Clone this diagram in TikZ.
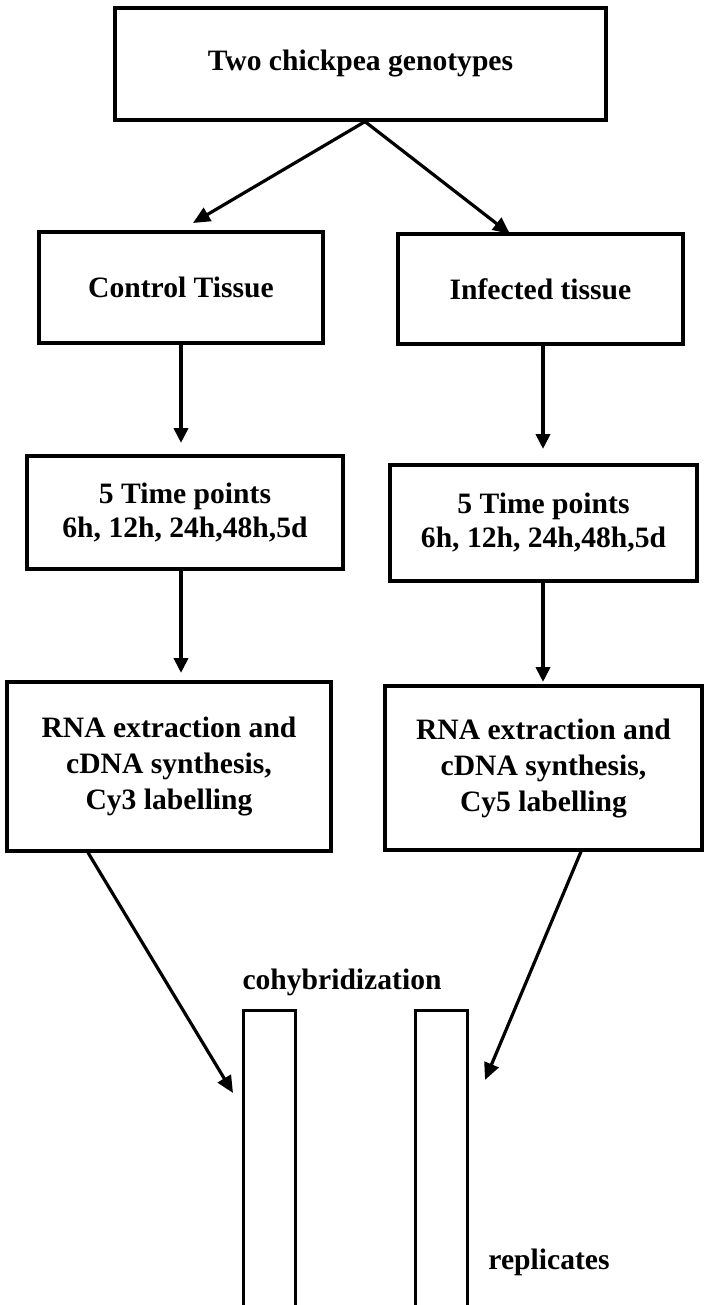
\documentclass[tikz,border=0pt]{standalone}
\usepackage{fontspec}
\setmainfont{Liberation Serif}
\usetikzlibrary{arrows.meta}
\begin{document}
\begin{tikzpicture}[x=1pt,y=-1pt,
  box/.style={draw=black,line width=3.2pt,rectangle,inner sep=0pt,align=center,
    font=\fontsize{29.6}{34}\selectfont\bfseries},
  bar/.style={draw=black,line width=3pt,rectangle,inner sep=0pt},
  lbl/.style={inner sep=0pt,font=\fontsize{29.6}{34}\selectfont\bfseries},
  arr/.style={line width=4pt,-{Triangle[length=15pt,width=14pt]}},
  darr/.style={line width=3.2pt,-{Triangle[length=17pt,width=15pt]}}]
\useasboundingbox (0,0) rectangle (704,1305);
% boxes
\node[box,minimum width=491pt,minimum height=112pt] (top) at (360.5,64) {Two chickpea genotypes};
\node[box,minimum width=284pt,minimum height=111pt] (ctrl) at (181,287.5) {Control Tissue};
\node[box,minimum width=285pt,minimum height=110pt] (inf) at (540.5,289) {Infected tissue};
\node[box,minimum width=316pt,minimum height=113pt] (t1) at (185,512.5) {5 Time points\\6h, 12h, 24h,48h,5d};
\node[box,minimum width=307pt,minimum height=116pt] (t2) at (543.5,523) {5 Time points\\6h, 12h, 24h,48h,5d};
\node[box,minimum width=324pt,minimum height=169pt,font=\fontsize{29.6}{36}\selectfont\bfseries] (r1) at (169,766.5) {RNA extraction and\\cDNA synthesis,\\Cy3 labelling};
\node[box,minimum width=317pt,minimum height=164pt,font=\fontsize{29.6}{36}\selectfont\bfseries] (r2) at (543.5,768) {RNA extraction and\\cDNA synthesis,\\Cy5 labelling};
% bars
\node[bar,minimum width=52pt,minimum height=320pt] (b1) at (269,1170) {};
\node[bar,minimum width=52pt,minimum height=320pt] (b2) at (441,1170) {};
% labels
\node[lbl] (coh) at (342,982) {cohybridization};
\node[lbl] (rep) at (549,1262) {replicates};
% arrow end points
\coordinate (apex) at (365,121);
\coordinate (a1) at (193,223);
\coordinate (a2) at (510,234);
\coordinate (a3) at (181,443);
\coordinate (a4) at (543,449);
\coordinate (a5) at (181,673);
\coordinate (a6) at (543,682);
\coordinate (s7) at (88,851);
\coordinate (a7) at (233,1093);
\coordinate (s8) at (581,850);
\coordinate (a8) at (485,1080);
% connectors
\draw[darr] (top.south -| apex) -- (a1);
\draw[darr] (top.south -| apex) -- (a2);
\draw[arr] (ctrl.south -| a3) -- (a3);
\draw[arr] (inf.south -| a4) -- (a4);
\draw[arr] (t1.south -| a5) -- (a5);
\draw[arr] (t2.south -| a6) -- (a6);
\draw[darr] (r1.south -| s7) -- (a7);
\draw[darr] (r2.south -| s8) -- (a8);
\end{tikzpicture}
\end{document}
